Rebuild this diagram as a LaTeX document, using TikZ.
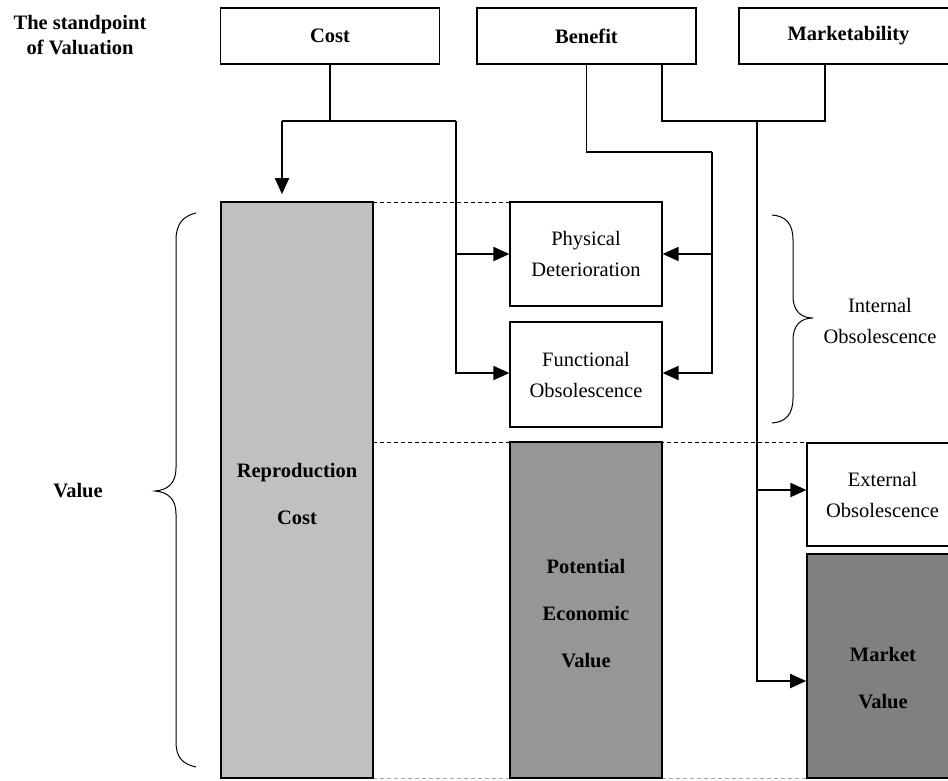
\documentclass[tikz,border=0pt]{standalone}
\usepackage{fontspec}
\setmainfont{Liberation Serif}
\usetikzlibrary{arrows.meta}
\definecolor{barA}{RGB}{192,192,192}
\definecolor{barB}{RGB}{150,150,150}
\definecolor{barC}{RGB}{128,128,128}
\definecolor{dashgray}{RGB}{170,170,170}
\begin{document}
\begin{tikzpicture}[x=1pt,y=-1pt,
  txt/.style={font=\fontsize{20.5}{31}\selectfont, align=center, inner sep=0pt},
  btxt/.style={font=\fontsize{20.5}{25}\selectfont\bfseries, align=center, inner sep=0pt},
  bartxt/.style={font=\fontsize{20.5}{47}\selectfont\bfseries, align=center, inner sep=0pt},
  topbox/.style={draw, line width=1.5pt, inner sep=0pt, minimum width=219pt, minimum height=56pt,
                 font=\fontsize{20.5}{25}\selectfont\bfseries},
  obsbox/.style={draw, line width=1.2pt, inner sep=0pt, minimum width=152pt, align=center,
                 font=\fontsize{20.5}{31}\selectfont},
  bar/.style={draw, line width=1.6pt, inner sep=0pt, minimum width=152pt},
  conn/.style={line width=1.8pt},
  arr/.style={conn, -{Triangle[length=16pt,width=14pt]}},
  thindash/.style={line width=0.9pt, dash pattern=on 4pt off 3pt},
  brc/.style={line width=1pt}]
\useasboundingbox (0,0) rectangle (948,780);
\clip (0,0) rectangle (948,780);

% dashed guide lines
\coordinate (d1) at (373,202);
\coordinate (d2) at (630,202);
\coordinate (d3) at (373,442);
\coordinate (d4) at (948,442);
\coordinate (d5) at (373,778);
\coordinate (d6) at (510,778);
\coordinate (d7) at (662,778);
\coordinate (d8) at (807,778);
\draw[thindash] (d1) -- (d2);
\draw[thindash] (d3) -- (d4);
\draw[thindash, dashgray] (d5) -- (d6);
\draw[thindash, dashgray] (d7) -- (d8);

% header
\node[btxt] (standpoint) at (80,35) {The standpoint\\of Valuation};
\node[topbox] (cost) at (330,36) {Cost};
\node[topbox] (benefit) at (586.5,36) {Benefit};
\node[topbox] (market) at (848.5,36) {Marketability};

% bars
\node[bar, fill=barA, minimum height=576pt] (repro) at (297,490) {};
\node[bar, fill=barB, minimum height=336pt] (pot) at (586,610) {};
\node[bar, fill=barC, minimum width=151pt, minimum height=224pt] (mv) at (882.5,666) {};
\node[bartxt] (reprotxt) at (297,494) {Reproduction\\Cost};
\node[bartxt] (pottxt) at (586,614) {Potential\\Economic\\Value};
\node[bartxt] (mvtxt) at (883,678) {Market\\Value};

% obsolescence boxes
\node[obsbox, minimum height=104pt] (phys) at (586,254) {Physical\\Deterioration};
\node[obsbox, minimum height=105pt] (func) at (586,374.5) {Functional\\Obsolescence};
\node[obsbox, minimum width=151pt, minimum height=103pt] (ext) at (882.5,494.5) {External\\Obsolescence};

% side labels
\node[btxt] (value) at (78,491) {Value};
\node[txt] (internal) at (880,321) {Internal\\Obsolescence};

% braces
\draw[brc] (196,213) .. controls (183,216) and (176,224) .. (176,240) -- (176,468)
  .. controls (176,483) and (168,490) .. (155,491)
  .. controls (168,492) and (176,499) .. (176,514) -- (176,742)
  .. controls (176,758) and (183,764) .. (196,767);
\draw[brc] (772,215) .. controls (786,216) and (793,224) .. (793,240) -- (793,296)
  .. controls (793,311) and (801,318) .. (813,318)
  .. controls (801,318) and (793,325) .. (793,340) -- (793,398)
  .. controls (793,414) and (786,422) .. (772,423);

% Cost connectors
\coordinate (c0) at (330,121);
\coordinate (c1) at (282,121);
\coordinate (c2) at (456,121);
\draw[conn] (cost.south) -- (c0);
\draw[conn] (c1) -- (c2);
\draw[arr, shorten >=7pt] (c1) -- (c1 |- repro.north);
\draw[arr] (c2) |- (phys.west);
\draw[arr] (c2) |- ([yshift=1.5pt]func.west);

% Benefit connectors
\coordinate (b1) at (712,152);
\draw[conn] (benefit.south) |- (b1);
\draw[arr] (b1) |- (phys.east);
\draw[arr] (b1) |- ([yshift=1.5pt]func.east);

% Benefit + Marketability connectors
\coordinate (m1) at (757,121);
\draw[conn] ([xshift=75.5pt]benefit.south) |- (m1) -| ([xshift=-23.5pt]market.south);
\draw[arr] (m1) |- ([yshift=4.5pt]ext.west);
\draw[arr] (m1) |- ([yshift=-15pt]mv.west);
\end{tikzpicture}
\end{document}
